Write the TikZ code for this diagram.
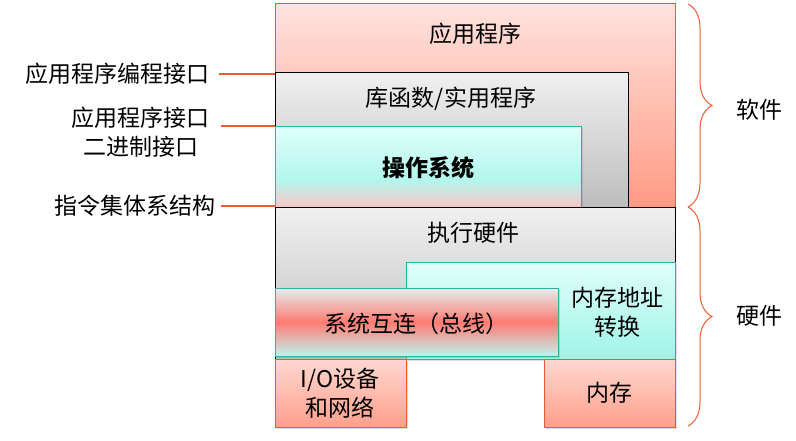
\documentclass[tikz,border=0pt]{standalone}
\usepackage{fontspec}
\setmainfont{Noto Sans CJK SC}
\usetikzlibrary{decorations.pathreplacing,shadows}
\definecolor{orl}{HTML}{EE5A30}
\definecolor{tealb}{HTML}{2EB0A2}
\definecolor{apptop}{HTML}{FFE3DE}
\definecolor{appbot}{HTML}{FF9A84}
\definecolor{saltop}{HTML}{FFD8D0}
\definecolor{salbot}{HTML}{FF9F8C}
\definecolor{graytop}{HTML}{F0F0F0}
\definecolor{graybot}{HTML}{BDBDBD}
\definecolor{cyantop}{HTML}{E0FFFB}
\definecolor{cyanbot}{HTML}{A0F3E6}
\definecolor{ospink}{HTML}{F6C8C8}
\definecolor{oscyanb}{HTML}{B2F7EC}
\definecolor{bustop}{HTML}{E2EFED}
\definecolor{busmid}{HTML}{FF7B72}
\definecolor{busbot}{HTML}{BDF5EE}
\pgfdeclareverticalshading{osshade}{100bp}{color(0bp)=(ospink); color(25bp)=(ospink); color(42bp)=(oscyanb); color(75bp)=(cyantop); color(100bp)=(cyantop)}
\begin{document}
\begin{tikzpicture}[x=1pt,y=-1pt,
  box/.style={rectangle,anchor=north west,inner sep=0pt,outer sep=0pt,line width=0.9pt},
  shad/.style={drop shadow={shadow xshift=1.5pt,shadow yshift=-1.5pt,opacity=0.25}},
  appfill/.style={box,draw=orl,top color=apptop,bottom color=appbot},
  salfill/.style={box,draw=orl,top color=saltop,bottom color=salbot,shad},
  grayfill/.style={box,draw=black,top color=graytop,bottom color=graybot},
  cyanfill/.style={box,draw=tealb,top color=cyantop,bottom color=cyanbot,shad},
  osfill/.style={box,draw=tealb,shading=osshade,shad},
  busfill/.style={box,draw=tealb,top color=bustop,bottom color=busbot,middle color=busmid,shad},
  txt/.style={font=\fontsize{23}{29}\selectfont,align=center,inner sep=1pt},
  conn/.style={draw=orl,line width=1.6pt},
  brc/.style={draw=orl,line width=1pt,decorate,decoration={brace,amplitude=24pt}}]
\useasboundingbox (0,0) rectangle (796,440);
% boxes
\node[appfill,minimum width=400pt,minimum height=204pt] (app) at (275,3) {};
\node[grayfill,minimum width=353pt,minimum height=135pt] (lib) at (275,72) {};
\node[osfill,minimum width=306pt,minimum height=81pt] (os) at (275,126) {};
\node[grayfill,minimum width=400pt,minimum height=152pt] (exe) at (275,207) {};
\node[cyanfill,minimum width=269pt,minimum height=97pt] (mat) at (406,262) {};
\node[busfill,minimum width=283pt,minimum height=68pt] (bus) at (275,288) {};
\node[salfill,minimum width=131pt,minimum height=68pt] (io) at (275,359) {};
\node[salfill,minimum width=131pt,minimum height=68pt] (mem) at (544,359) {};
% box texts
\node[txt] (tapp) at (475,34) {应用程序};
\node[txt] (tlib) at (451,99) {库函数/实用程序};
\node[txt,font=\fontsize{23}{29}\selectfont\bfseries] (tos) at (428,168) {操作系统};
\node[txt] (texe) at (473,233) {执行硬件};
\node[txt] (tmat) at (617,312) {内存地址\\转换};
\node[txt] (tbus) at (416,324) {系统互连（总线）};
\node[txt] (tio) at (340,393) {I/O设备\\和网络};
\node[txt] (tmem) at (609,393) {内存};
% left labels
\node[txt,anchor=east] (l1) at (211,74) {应用程序编程接口};
\node[txt,anchor=east] (l2) at (211,132) {应用程序接口\\二进制接口};
\node[txt,anchor=east] (l3) at (217,206) {指令集体系结构};
\draw[conn,shorten <=8pt] (l1.east) -- (app.west |- l1.east);
\draw[conn,shorten <=10pt] (l2.east |- os.north west) -- (os.north west);
\draw[conn,shorten <=4pt] (l3.east) -- (exe.west |- l3.east);
% braces
\coordinate (b1t) at (688,4);
\coordinate (b1b) at (688,207);
\coordinate (b2b) at (688,426);
\draw[brc] (b1t) -- (b1b);
\draw[brc] (b1b) -- (b2b);
\node[txt] (sw) at (759,110) {软件};
\node[txt] (hw) at (759,316) {硬件};
\end{tikzpicture}
\end{document}
